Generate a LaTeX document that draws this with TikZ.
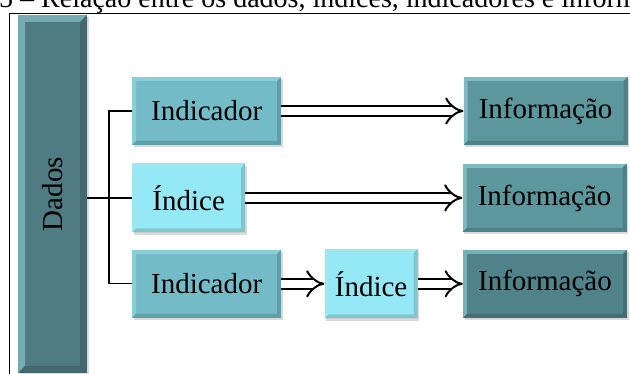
\documentclass[tikz,border=0pt]{standalone}
\usepackage{fontspec}
\setmainfont{Liberation Serif}
\usetikzlibrary{arrows.meta, positioning, shadows}

\definecolor{dadosTeal}{HTML}{4F7C82}
\definecolor{infoTeal}{HTML}{5C979D}
\definecolor{infoDark}{HTML}{4F8289}
\definecolor{indTeal}{HTML}{73BBC6}
\definecolor{idxCyan}{HTML}{95E8F5}
\definecolor{bevelLight}{HTML}{A8E6EE}

\begin{document}
\begin{tikzpicture}[
    x=1pt, y=1pt,
    font=\fontsize{29}{34}\selectfont,
    % Bevel look of the boxes
    bevel/.style={
        path picture={
            \fill[bevelLight, opacity=0.45]
                (path picture bounding box.south west) -- (path picture bounding box.north west)
                -- (path picture bounding box.north east) -- ([shift={(-#1,-#1)}]path picture bounding box.north east)
                -- ([shift={(#1,-#1)}]path picture bounding box.north west) -- ([shift={(#1,#1)}]path picture bounding box.south west) -- cycle;
            \fill[black, opacity=0.15]
                (path picture bounding box.south west) -- (path picture bounding box.south east)
                -- (path picture bounding box.north east) -- ([shift={(-#1,-#1)}]path picture bounding box.north east)
                -- ([shift={(-#1,#1)}]path picture bounding box.south east) -- ([shift={(#1,#1)}]path picture bounding box.south west) -- cycle;
        }
    },
    % Box Styles
    box/.style={
        rectangle, inner sep=0pt, minimum height=68pt, align=center, bevel=4pt,
        drop shadow={opacity=0.3, shadow xshift=1.5pt, shadow yshift=-2.5pt}
    },
    indbox/.style={box, fill=indTeal, minimum width=149pt},
    idxbox/.style={box, fill=idxCyan, minimum height=69pt},
    infobox/.style={box, fill=infoTeal, minimum width=164pt},
    dadosBar/.style={
        rectangle, inner sep=0pt, fill=dadosTeal, minimum width=69pt, minimum height=358pt,
        bevel=7pt, drop shadow={opacity=0.3, shadow xshift=1.5pt, shadow yshift=-2.5pt}
    },
    % Line Styles
    branch/.style={draw=black, line width=1.4pt},
    dblArrow/.style={draw=black, double=white, double distance=7.5pt, line width=2pt,
        -{Implies[scale=1.7]}},
    frameLine/.style={draw=black, line width=0.9pt}
]

    \useasboundingbox (0,0) rectangle (630,374);
    \clip (0,0) rectangle (630,374);

    % --- CAPTION (cut off) ---
    \node[anchor=base west, inner sep=0pt, font=\fontsize{28}{32}\selectfont] (titulo) at (-1,366)
        {5 -- Relação entre os dados, índices, indicadores e informação};

    % --- FRAME ---
    \draw[frameLine] (9,361) rectangle (645,-10);

    % --- DADOS ---
    \node[dadosBar] (dados) at (52.5,180) {\rotatebox{90}{Dados}};

    % --- FIRST COLUMN ---
    \node[indbox, anchor=west] (ind1) at (132,263) {Indicador};
    \node[idxbox, minimum width=113pt, below right=18pt and 0pt of ind1.south west] (idx2) {Índice};
    \node[indbox, below right=17pt and 0pt of idx2.south west] (ind3) {Indicador};
    \node[idxbox, minimum width=93pt, right=43pt of ind3] (idx3) {Índice};

    % --- INFORMACAO ---
    \node[infobox, right=182pt of ind1] (info1) {Informação};
    \node[infobox, right=217pt of idx2] (info2) {Informação};
    \node[infobox, fill=infoDark, right=45pt of idx3] (info3) {Informação};

    % --- BRANCH ---
    \coordinate (trunk) at (109,0);
    \draw[branch] (dados.east |- idx2.west) -- (idx2.west);
    \draw[branch] (ind1.west) -- (trunk |- ind1.west) -- (trunk |- ind3.west) -- (ind3.west);

    % --- ARROWS ---
    \draw[dblArrow] (ind1.east) -- (info1.west);
    \draw[dblArrow] (idx2.east) -- (info2.west);
    \draw[dblArrow] (ind3.east) -- (idx3.west);
    \draw[dblArrow] (idx3.east) -- (info3.west);

\end{tikzpicture}
\end{document}
